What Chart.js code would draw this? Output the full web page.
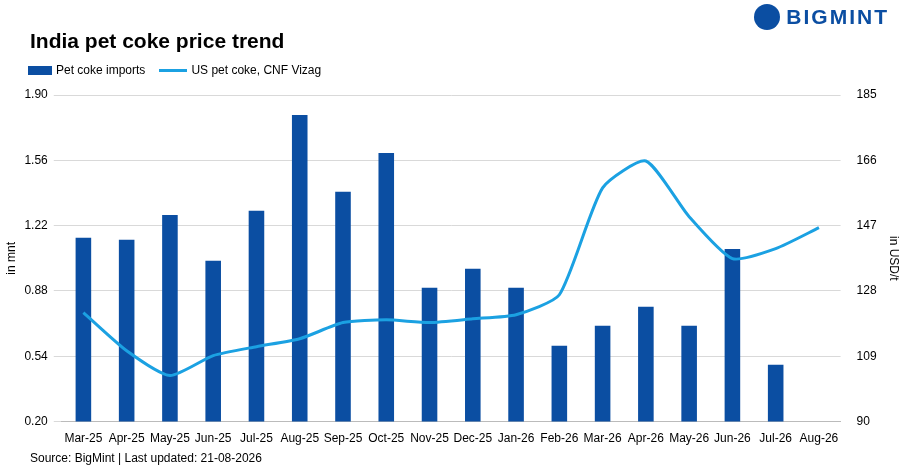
<!DOCTYPE html>
<html><head><meta charset="utf-8">
<script src="https://cdn.jsdelivr.net/npm/chart.js@4"></script>
<style>
body{margin:0;background:#fff;font-family:"Liberation Sans",Arial,sans-serif;}
#wrap{position:relative;width:903px;height:476px;}
#title{position:absolute;left:30px;top:29px;font-size:21px;font-weight:bold;color:#000;}
#logo{position:absolute;right:14px;top:4px;font-size:21px;font-weight:bold;color:#0B4EA2;letter-spacing:2px;display:flex;align-items:center;gap:6px}
#logo span.c{display:inline-block;width:26px;height:26px;border-radius:50%;background:#0B4EA2}
#src{position:absolute;left:30px;top:451px;font-size:12px;color:#000;}
#leg{position:absolute;left:28px;top:63px;font-size:12px;display:flex;gap:14px;align-items:center}
#leg i{display:inline-block;vertical-align:middle;margin-right:4px}
canvas{position:absolute;left:0;top:0;}
</style></head><body>
<div id="wrap">
<canvas id="c" width="903" height="476"></canvas>
<div id="title">India pet coke price trend</div>
<div id="logo"><span class="c"></span>BIGMINT</div>
<div id="leg"><span><i style="width:24px;height:9px;background:#0B4EA2"></i>Pet coke imports</span><span><i style="width:28px;height:3px;background:#1BA1E2"></i>US pet coke, CNF Vizag</span></div>
<div id="src">Source: BigMint | Last updated: 21-08-2026</div>
</div>
<script>
const categories=["Mar-25","Apr-25","May-25","Jun-25","Jul-25","Aug-25","Sep-25","Oct-25","Nov-25","Dec-25","Jan-26","Feb-26","Mar-26","Apr-26","May-26","Jun-26","Jul-26","Aug-26"];
const imports=[1.157,1.146,1.276,1.037,1.297,1.796,1.396,1.598,0.897,0.995,0.897,0.595,0.699,0.798,0.699,1.099,0.496,null];
const usPrice=[121.7,110.6,103.4,109.2,111.8,114.1,118.8,119.6,118.8,119.9,121.1,126.9,158.0,165.8,149.6,137.4,140.3,146.4];
const leftTicks=[0.20,0.54,0.88,1.22,1.56,1.90];
const rightTicks=[90,109,128,147,166,185];
Chart.defaults.font.family='"Liberation Sans",Arial,sans-serif';
Chart.defaults.color='#000';
new Chart(document.getElementById('c'),{
 data:{labels:categories,datasets:[
  {type:'line',label:'US pet coke, CNF Vizag',data:usPrice,yAxisID:'y1',borderColor:'#1BA1E2',backgroundColor:'#1BA1E2',borderWidth:3,pointRadius:0,tension:0.2,order:0},
  {type:'bar',label:'Pet coke imports',data:imports,yAxisID:'y',backgroundColor:'#0B4EA2',categoryPercentage:1,barPercentage:0.36,order:1}
 ]},
 options:{responsive:false,animation:false,
  layout:{padding:{top:95,left:4,right:0,bottom:28}},
  plugins:{legend:{display:false},tooltip:{enabled:false}},
  scales:{
   x:{grid:{display:false},border:{color:'#bbb'},ticks:{font:{size:12},maxRotation:0,autoSkip:false,padding:2}},
   y:{position:'left',min:0.20,max:1.90,afterBuildTicks:a=>{a.ticks=leftTicks.map(v=>({value:v}))},ticks:{font:{size:12},callback:v=>v.toFixed(2),padding:6},grid:{color:'#d9d9d9'},border:{display:false},title:{display:true,text:'in mnt',font:{size:12},padding:0}},
   y1:{position:'right',min:90,max:185,afterBuildTicks:a=>{a.ticks=rightTicks.map(v=>({value:v}))},ticks:{font:{size:12},padding:8},grid:{display:false},border:{display:false},title:{display:true,text:'in USD/t',font:{size:12},padding:2}}
  }}
});
</script>
</body></html>
